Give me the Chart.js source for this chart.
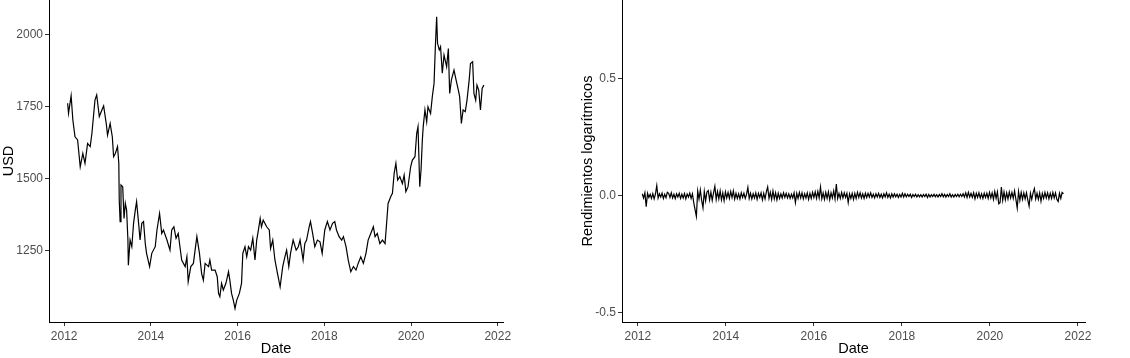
<!DOCTYPE html>
<html>
<head>
<meta charset="utf-8">
<script src="https://cdn.jsdelivr.net/npm/chart.js@4.4.1/dist/chart.umd.min.js"></script>
<style>
  body { margin: 0; background: #fff; }
  canvas { position: absolute; top: 0; }
</style>
</head>
<body>
<canvas id="precioChart" width="565" height="358" style="left:0"></canvas>
<canvas id="rendChart" width="565" height="358" style="left:565px"></canvas>
<script>
// fechas (decimal years) of the price readings
const fechas = [
  2012.08, 2012.10, 2012.16, 2012.20, 2012.25, 2012.31, 2012.37, 2012.43, 2012.48, 2012.54,
  2012.60, 2012.64, 2012.71, 2012.75, 2012.81, 2012.87, 2012.91, 2012.97, 2013.00, 2013.06,
  2013.11, 2013.14, 2013.18, 2013.23, 2013.26, 2013.27, 2013.29, 2013.31, 2013.35, 2013.38,
  2013.41, 2013.44, 2013.47, 2013.48, 2013.52, 2013.56, 2013.60, 2013.64, 2013.67, 2013.71,
  2013.75, 2013.79, 2013.83, 2013.87, 2013.90, 2013.97, 2014.02, 2014.10, 2014.14, 2014.20,
  2014.25, 2014.29, 2014.37, 2014.44, 2014.48, 2014.53, 2014.58, 2014.63, 2014.71, 2014.79,
  2014.83, 2014.86, 2014.92, 2014.98, 2015.06, 2015.12, 2015.17, 2015.21, 2015.25, 2015.33,
  2015.36, 2015.40, 2015.48, 2015.53, 2015.56, 2015.59, 2015.63, 2015.67, 2015.73, 2015.79,
  2015.82, 2015.86, 2015.90, 2015.94, 2015.98, 2016.04, 2016.09, 2016.12, 2016.17, 2016.21,
  2016.25, 2016.30, 2016.35, 2016.40, 2016.44, 2016.48, 2016.52, 2016.55, 2016.59, 2016.67,
  2016.73, 2016.76, 2016.81, 2016.86, 2016.92, 2016.98, 2017.04, 2017.09, 2017.13, 2017.18,
  2017.22, 2017.28, 2017.35, 2017.40, 2017.44, 2017.51, 2017.55, 2017.59, 2017.65, 2017.68,
  2017.73, 2017.78, 2017.84, 2017.90, 2017.95, 2018.01, 2018.07, 2018.13, 2018.19, 2018.24,
  2018.28, 2018.34, 2018.40, 2018.44, 2018.50, 2018.55, 2018.61, 2018.67, 2018.73, 2018.78,
  2018.84, 2018.90, 2018.96, 2019.01, 2019.07, 2019.13, 2019.17, 2019.22, 2019.28, 2019.34,
  2019.40, 2019.43, 2019.47, 2019.53, 2019.57, 2019.61, 2019.65, 2019.69, 2019.74, 2019.80,
  2019.84, 2019.88, 2019.93, 2019.99, 2020.03, 2020.09, 2020.13, 2020.16, 2020.20, 2020.23,
  2020.26, 2020.28, 2020.32, 2020.36, 2020.39, 2020.45, 2020.49, 2020.53, 2020.56, 2020.59,
  2020.61, 2020.65, 2020.68, 2020.72, 2020.76, 2020.82, 2020.86, 2020.89, 2020.93, 2020.99,
  2021.03, 2021.09, 2021.12, 2021.16, 2021.20, 2021.25, 2021.29, 2021.34, 2021.37, 2021.42,
  2021.45, 2021.49, 2021.52, 2021.56, 2021.60, 2021.64, 2021.68
];

// precio en USD
const precio = [
  1761, 1726, 1787, 1703, 1645, 1634, 1541, 1587, 1553, 1622,
  1611, 1657, 1772, 1790, 1715, 1738, 1752, 1691, 1651, 1691,
  1645, 1576, 1587, 1611, 1553, 1426, 1351, 1478, 1472, 1362,
  1414, 1391, 1287, 1200, 1287, 1264, 1345, 1391, 1420, 1356,
  1287, 1345, 1351, 1275, 1241, 1195, 1241, 1264, 1322, 1379,
  1310, 1322, 1287, 1252, 1322, 1333, 1293, 1310, 1218, 1195,
  1229, 1143, 1195, 1206, 1299, 1241, 1171, 1148, 1206, 1195,
  1218, 1183, 1183, 1160, 1102, 1091, 1137, 1114, 1137, 1177,
  1148, 1102, 1079, 1050, 1079, 1102, 1137, 1241, 1264, 1229,
  1264, 1252, 1293, 1218, 1287, 1322, 1362, 1333, 1356, 1333,
  1322, 1258, 1287, 1218, 1171, 1125, 1195, 1229, 1252, 1195,
  1241, 1287, 1252, 1264, 1287, 1218, 1275, 1287, 1333, 1351,
  1310, 1264, 1287, 1281, 1241, 1322, 1351, 1322, 1345, 1351,
  1322, 1299, 1287, 1299, 1264, 1218, 1177, 1195, 1183, 1206,
  1229, 1206, 1241, 1287, 1310, 1333, 1299, 1310, 1275, 1287,
  1275, 1333, 1414, 1437, 1449, 1518, 1553, 1495, 1507, 1483,
  1512, 1455, 1472, 1541, 1564, 1576, 1657, 1680, 1472, 1530,
  1634, 1680, 1738, 1697, 1749, 1726, 1784, 1830, 1957, 2061,
  1969, 1946, 1957, 1865, 1928, 1888, 1951, 1795, 1842, 1876,
  1847, 1807, 1784, 1691, 1738, 1732, 1772, 1842, 1899, 1905,
  1795, 1772, 1824, 1807, 1738, 1813, 1824
];

// fechas of the return readings
const fechasRend = [
  2012.10, 2012.13, 2012.16, 2012.19, 2012.22, 2012.25, 2012.28, 2012.31, 2012.34, 2012.37,
  2012.40, 2012.43, 2012.46, 2012.49, 2012.52, 2012.55, 2012.58, 2012.61, 2012.64, 2012.67,
  2012.70, 2012.73, 2012.76, 2012.79, 2012.82, 2012.85, 2012.88, 2012.91, 2012.94, 2012.97,
  2013.00, 2013.03, 2013.06, 2013.09, 2013.12, 2013.15, 2013.18, 2013.21, 2013.24, 2013.27,
  2013.30, 2013.33, 2013.36, 2013.39, 2013.42, 2013.45, 2013.48, 2013.51, 2013.54, 2013.57,
  2013.60, 2013.63, 2013.66, 2013.69, 2013.72, 2013.75, 2013.78, 2013.81, 2013.84, 2013.87,
  2013.90, 2013.93, 2013.96, 2013.99, 2014.02, 2014.05, 2014.08, 2014.11, 2014.14, 2014.17,
  2014.20, 2014.23, 2014.26, 2014.29, 2014.32, 2014.35, 2014.38, 2014.41, 2014.44, 2014.47,
  2014.50, 2014.53, 2014.56, 2014.59, 2014.62, 2014.65, 2014.68, 2014.71, 2014.74, 2014.77,
  2014.80, 2014.83, 2014.86, 2014.89, 2014.92, 2014.95, 2014.98, 2015.01, 2015.04, 2015.07,
  2015.10, 2015.13, 2015.16, 2015.19, 2015.22, 2015.25, 2015.28, 2015.31, 2015.34, 2015.37,
  2015.40, 2015.43, 2015.46, 2015.49, 2015.52, 2015.55, 2015.58, 2015.61, 2015.64, 2015.67,
  2015.70, 2015.73, 2015.76, 2015.79, 2015.82, 2015.85, 2015.88, 2015.91, 2015.94, 2015.97,
  2016.00, 2016.03, 2016.06, 2016.09, 2016.12, 2016.15, 2016.18, 2016.21, 2016.24, 2016.27,
  2016.30, 2016.33, 2016.36, 2016.39, 2016.42, 2016.45, 2016.48, 2016.51, 2016.54, 2016.57,
  2016.60, 2016.63, 2016.66, 2016.69, 2016.72, 2016.75, 2016.78, 2016.81, 2016.84, 2016.87,
  2016.90, 2016.93, 2016.96, 2016.99, 2017.02, 2017.05, 2017.08, 2017.11, 2017.14, 2017.17,
  2017.20, 2017.23, 2017.26, 2017.29, 2017.32, 2017.35, 2017.38, 2017.41, 2017.44, 2017.47,
  2017.50, 2017.53, 2017.56, 2017.59, 2017.62, 2017.65, 2017.68, 2017.71, 2017.74, 2017.77,
  2017.80, 2017.83, 2017.86, 2017.89, 2017.92, 2017.95, 2017.98, 2018.01, 2018.04, 2018.07,
  2018.10, 2018.13, 2018.16, 2018.19, 2018.22, 2018.25, 2018.28, 2018.31, 2018.34, 2018.37,
  2018.40, 2018.43, 2018.46, 2018.49, 2018.52, 2018.55, 2018.58, 2018.61, 2018.64, 2018.67,
  2018.70, 2018.73, 2018.76, 2018.79, 2018.82, 2018.85, 2018.88, 2018.91, 2018.94, 2018.97,
  2019.00, 2019.03, 2019.06, 2019.09, 2019.12, 2019.15, 2019.18, 2019.21, 2019.24, 2019.27,
  2019.30, 2019.33, 2019.36, 2019.39, 2019.42, 2019.45, 2019.48, 2019.51, 2019.54, 2019.57,
  2019.60, 2019.63, 2019.66, 2019.69, 2019.72, 2019.75, 2019.78, 2019.81, 2019.84, 2019.87,
  2019.90, 2019.93, 2019.96, 2019.99, 2020.02, 2020.05, 2020.08, 2020.11, 2020.14, 2020.17,
  2020.20, 2020.23, 2020.26, 2020.29, 2020.32, 2020.35, 2020.38, 2020.41, 2020.44, 2020.47,
  2020.50, 2020.53, 2020.56, 2020.59, 2020.62, 2020.65, 2020.68, 2020.71, 2020.74, 2020.77,
  2020.80, 2020.83, 2020.86, 2020.89, 2020.92, 2020.95, 2020.98, 2021.01, 2021.04, 2021.07,
  2021.10, 2021.13, 2021.16, 2021.19, 2021.22, 2021.25, 2021.28, 2021.31, 2021.34, 2021.37,
  2021.40, 2021.43, 2021.46, 2021.49, 2021.52, 2021.55, 2021.58, 2021.61, 2021.64, 2021.67
];

// rendimientos logaritmicos
const rendimientos = [
  0.008, -0.010, 0.012, -0.047, 0.010, -0.008, 0.006, -0.012, 0.009, -0.014,
  0.007, 0.043, -0.010, 0.008, -0.006, 0.011, -0.012, 0.006, -0.009, 0.014,
  0.010, -0.008, 0.012, -0.010, 0.006, -0.013, 0.008, -0.006, 0.010, -0.012,
  0.006, -0.010, 0.009, -0.014, 0.007, -0.006, 0.011, -0.012, 0.008, -0.030,
  -0.060, -0.089, 0.020, -0.015, 0.024, -0.020, -0.052, 0.018, -0.022, 0.016,
  0.022, -0.018, 0.015, -0.020, 0.012, 0.040, -0.016, 0.018, -0.014, 0.020,
  -0.018, 0.012, -0.022, 0.016, -0.010, 0.014, -0.012, 0.018, -0.008, 0.020,
  -0.015, 0.010, -0.012, 0.008, -0.014, 0.012, -0.008, 0.010, -0.012, 0.006,
  0.035, -0.012, 0.010, -0.014, 0.008, -0.010, 0.012, -0.016, 0.010, -0.008,
  0.012, -0.018, 0.010, -0.014, 0.016, 0.037, -0.012, 0.014, -0.016, 0.020,
  -0.014, 0.012, -0.018, 0.010, -0.012, 0.008, -0.010, 0.012, -0.008, 0.010,
  -0.010, 0.008, -0.012, 0.006, -0.010, 0.012, -0.030, 0.010, -0.012, 0.014,
  -0.010, 0.012, -0.014, 0.008, -0.010, 0.012, -0.016, 0.010, -0.012, 0.014,
  -0.008, 0.016, -0.012, 0.018, -0.010, 0.037, -0.014, 0.012, -0.016, 0.014,
  -0.012, 0.016, -0.018, 0.012, -0.010, 0.020, -0.014, 0.050, -0.012, 0.010,
  -0.012, 0.014, -0.010, 0.012, -0.008, 0.010, -0.030, 0.008, -0.012, 0.010,
  -0.016, 0.010, -0.012, 0.014, -0.008, 0.012, -0.010, 0.008, -0.012, 0.010,
  -0.008, 0.010, -0.006, 0.012, -0.008, 0.006, -0.010, 0.008, -0.006, 0.010,
  -0.008, 0.006, -0.010, 0.008, -0.006, 0.012, -0.008, 0.006, -0.010, 0.008,
  -0.006, 0.008, -0.005, 0.006, -0.008, 0.005, -0.006, 0.010, -0.006, 0.008,
  -0.005, 0.006, -0.004, 0.006, -0.008, 0.005, -0.004, 0.006, -0.006, 0.004,
  -0.005, 0.004, -0.006, 0.005, -0.004, 0.006, -0.008, 0.005, -0.006, 0.004,
  -0.004, 0.006, -0.005, 0.004, -0.006, 0.005, -0.004, 0.008, -0.005, 0.006,
  -0.006, 0.005, -0.004, 0.008, -0.006, 0.004, -0.006, 0.005, -0.004, 0.006,
  -0.005, 0.006, -0.004, 0.008, -0.006, 0.012, -0.008, 0.014, -0.006, 0.010,
  -0.008, 0.012, -0.014, 0.010, -0.008, 0.012, -0.010, 0.008, -0.012, 0.010,
  -0.008, 0.010, -0.012, 0.014, -0.010, 0.012, -0.016, 0.018, -0.012, 0.016,
  -0.035, -0.030, 0.037, -0.020, 0.016, -0.018, 0.012, -0.014, 0.016, -0.010,
  0.014, -0.012, 0.020, -0.016, -0.053, 0.018, -0.020, 0.014, -0.016, 0.012,
  -0.014, 0.012, -0.018, -0.045, 0.010, -0.016, 0.012, 0.030, -0.014, 0.010,
  -0.016, 0.012, -0.024, 0.010, -0.012, 0.014, -0.010, 0.012, -0.014, 0.010,
  -0.012, 0.014, -0.010, 0.012, -0.016, -0.025, 0.010, -0.012, 0.014, 0.008
];

const xTicks = [2012, 2014, 2016, 2018, 2020, 2022];
const yTicksPrecio = [1250, 1500, 1750, 2000];
const yTicksRend = [-0.5, 0, 0.5];

Chart.defaults.font.family = "'Liberation Sans', Arial, sans-serif";
Chart.defaults.animation = false;

function makeChart(id, xs, values, opts) {
  const points = xs.map((f, i) => ({ x: f, y: values[i] }));
  const ctx = document.getElementById(id).getContext('2d');
  return new Chart(ctx, {
    type: 'line',
    data: {
      datasets: [{
        data: points,
        borderColor: '#000000',
        borderWidth: opts.lineWidth,
        pointRadius: 0,
        fill: false,
        tension: 0
      }]
    },
    options: {
      responsive: false,
      events: [],
      layout: { padding: { left: opts.padLeft, right: opts.padRight, top: 0, bottom: 0 } },
      plugins: { legend: { display: false }, tooltip: { enabled: false } },
      scales: {
        x: {
          type: 'linear',
          min: opts.xMin,
          max: opts.xMax,
          afterBuildTicks: s => { s.ticks = xTicks.map(v => ({ value: v })); },
          afterFit: s => { s.height = 36; s.paddingLeft = 0; s.paddingRight = 0; },
          grid: { drawOnChartArea: false, drawTicks: true, tickLength: 4, tickColor: '#333333' },
          border: { display: true, color: '#000000', width: 1 },
          ticks: {
            color: '#4d4d4d',
            font: { size: 12 },
            padding: 3,
            maxRotation: 0,
            callback: v => String(v)
          },
          title: {
            display: true,
            text: 'Date',
            color: '#000000',
            font: { size: 14.5 },
            padding: { top: 0, bottom: 0 }
          }
        },
        y: {
          min: opts.yMin,
          max: opts.yMax,
          afterBuildTicks: s => { s.ticks = opts.yTicks.map(v => ({ value: v })); },
          afterFit: s => { s.width = opts.yWidth; s.paddingTop = 0; s.paddingBottom = 0; },
          grid: { drawOnChartArea: false, drawTicks: true, tickLength: 4, tickColor: '#333333' },
          border: { display: true, color: '#000000', width: 1 },
          ticks: {
            color: '#4d4d4d',
            font: { size: 12 },
            padding: 2,
            callback: opts.yFormat
          },
          title: {
            display: true,
            text: opts.yTitle,
            color: '#000000',
            font: { size: 14.5 },
            padding: { top: 0, bottom: 0 }
          }
        }
      }
    }
  });
}

makeChart('precioChart', fechas, precio, {
  padLeft: 0, padRight: 62, yWidth: 49, lineWidth: 1.2,
  xMin: 2011.65, xMax: 2022.12,
  yMin: 1003, yMax: 2119,
  yTicks: yTicksPrecio,
  yTitle: 'USD',
  yFormat: v => String(v)
});

makeChart('rendChart', fechasRend, rendimientos, {
  padLeft: 14, padRight: 45, yWidth: 43, lineWidth: 1.2,
  xMin: 2011.64, xMax: 2022.16,
  yMin: -0.5416, yMax: 0.8385,
  yTicks: yTicksRend,
  yTitle: 'Rendimientos logarítmicos',
  yFormat: v => v.toFixed(1)
});
</script>
</body>
</html>
